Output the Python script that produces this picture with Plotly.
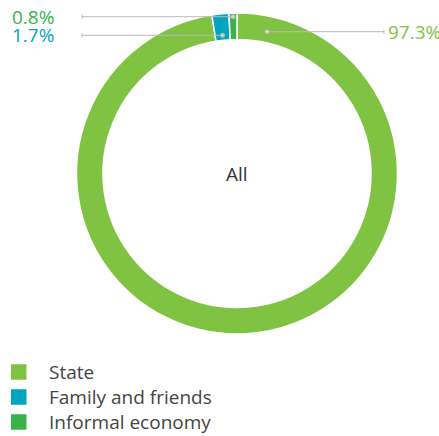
import math
import plotly.graph_objects as go

# ---- data ----
categories = ["State", "Family and friends", "Informal economy"]
shares = [97.3, 1.7, 0.8]
value_labels = ["97.3%", "1.7%", "0.8%"]
colors = ["#80C342", "#00A6BE", "#37B34A"]
center_label = "All"

# ---- layout config (pixels) ----
W, H = 439, 436
CX, CY, R = 237.0, 173.5, 160.5
HOLE = 0.835
FONT = "Open Sans, DejaVu Sans, sans-serif"
# label placement: side, label row y (px), anchor angle override (deg clockwise from 12 o'clock)
label_side = ["right", "left", "left"]
label_row_y = [31.7, 35.3, 16.7]
anchor_override = [12.0, None, None]
LEFT_LINE_X, RIGHT_LINE_X = 82, 384
LEFT_TEXT_X, RIGHT_TEXT_X = 10, 386
LINE_COLOR = "#BBBBBB"


def px(x):
    return x / W


def py(y):
    return 1 - y / H


fig = go.Figure()
fig.add_trace(go.Pie(
    labels=categories, values=shares, sort=False, direction="clockwise", rotation=0,
    hole=HOLE, textinfo="none", hoverinfo="label+percent",
    marker=dict(colors=colors, line=dict(color="white", width=1.5)),
    domain=dict(x=[px(CX - R), px(CX + R)], y=[py(CY + R), py(CY - R)]),
    showlegend=False,
))

shapes = []
annotations = []
total = sum(shares)
cum = 0.0
for i, v in enumerate(shares):
    mid = (cum + v / 2) / total * 360.0
    cum += v
    ang = anchor_override[i] if anchor_override[i] is not None else mid
    if ang > 180:
        ang -= 360
    y = label_row_y[i]
    dx = math.tan(math.radians(ang)) * (CY - y)
    dot_x = CX + dx
    if label_side[i] == "left":
        x_end = LEFT_LINE_X
        tx, anchor = LEFT_TEXT_X, "left"
    else:
        x_end = RIGHT_LINE_X
        tx, anchor = RIGHT_TEXT_X, "left"
    shapes.append(dict(type="line", xref="paper", yref="paper",
                       x0=px(x_end), x1=px(dot_x), y0=py(y), y1=py(y),
                       line=dict(color=LINE_COLOR, width=1)))
    shapes.append(dict(type="line", xref="paper", yref="paper",
                       x0=px(x_end), x1=px(x_end), y0=py(y - 2), y1=py(y + 2),
                       line=dict(color=LINE_COLOR, width=1)))
    shapes.append(dict(type="circle", xref="paper", yref="paper",
                       x0=px(dot_x - 2.3), x1=px(dot_x + 2.3), y0=py(y + 2.3), y1=py(y - 2.3),
                       line=dict(color="#AAAAAA", width=1), fillcolor="rgba(255,255,255,0.6)"))
    annotations.append(dict(xref="paper", yref="paper", x=px(tx), y=py(y), xanchor=anchor,
                            yanchor="middle", text=value_labels[i], showarrow=False,
                            font=dict(family=FONT, size=19, color=colors[i])))

annotations.append(dict(xref="paper", yref="paper", x=px(CX), y=py(CY), text=center_label,
                        showarrow=False, xanchor="center", yanchor="middle",
                        font=dict(family=FONT, size=19, color="#333333")))

# custom legend
LEG_X, LEG_Y0, LEG_DY, SQ = 11, 372, 25, 15.5
for i, name in enumerate(categories):
    yc = LEG_Y0 + i * LEG_DY
    shapes.append(dict(type="rect", xref="paper", yref="paper",
                       x0=px(LEG_X), x1=px(LEG_X + SQ), y0=py(yc + SQ / 2), y1=py(yc - SQ / 2),
                       fillcolor=colors[i], line=dict(width=0)))
    annotations.append(dict(xref="paper", yref="paper", x=px(47), y=py(yc), xanchor="left",
                            yanchor="middle", text=name, showarrow=False,
                            font=dict(family=FONT, size=19, color="#444444")))

fig.update_layout(width=W, height=H, margin=dict(l=0, r=0, t=0, b=0),
                  paper_bgcolor="white", plot_bgcolor="white",
                  shapes=shapes, annotations=annotations, showlegend=False)
fig.write_html("out.html", config={"displayModeBar": False},
               post_script="document.body.style.margin='0';document.body.style.overflow='hidden';")
